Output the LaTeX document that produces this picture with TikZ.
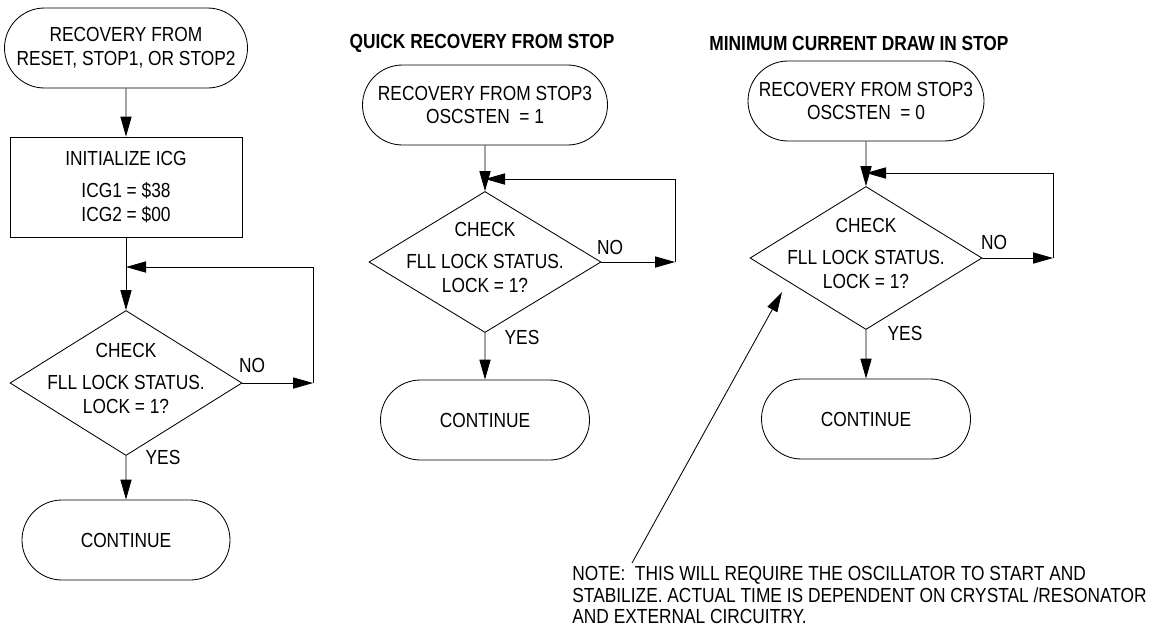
\documentclass[tikz,border=0pt]{standalone}
\usepackage{fontspec}
\setmainfont{Liberation Sans}[FakeStretch=0.85]
\usetikzlibrary{shapes.misc,shapes.geometric,arrows.meta,positioning}
\newcommand{\unitpx}{0.25mm}
\tikzset{
	terminal/.style={draw, rounded rectangle, inner sep=0pt,
		minimum height=80*\unitpx, align=center},
	process/.style={draw, rectangle, inner sep=0pt, minimum width=232*\unitpx,
		minimum height=100*\unitpx, align=center},
	decision/.style={draw, diamond, inner sep=0pt, minimum width=232*\unitpx},
	chktext/.style={align=center, inner sep=0pt, yshift=1.2mm},
	lbl/.style={inner sep=0pt},
	title/.style={inner sep=0pt, font=\fontsize{14.5}{17}\selectfont\bfseries},
	note/.style={anchor=north west, align=left, inner sep=0pt,
		font=\fontsize{14.5}{15.3}\selectfont},
	flow/.style={-{Triangle[length=5mm,width=2.8mm]}}
}

\begin{document}
\begin{tikzpicture}[x=\unitpx, y=-\unitpx, line width=0.6pt,
	font=\fontsize{14.5}{17}\selectfont]
	\useasboundingbox (0,0) rectangle (1152,631);

	% recovery from reset
	\node[terminal, minimum width=243*\unitpx] (start1) at (126,48) {RECOVERY FROM\\RESET, STOP1, OR STOP2};
	\node[process] (init) at (126,187) {INITIALIZE ICG\\[2mm]ICG1 = \$38\\ICG2 = \$00};
	\node[decision, minimum height=145*\unitpx] (chk1) at (126,383) {};
	\node[chktext] (chk1txt) at (chk1) {CHECK\\[2mm]FLL LOCK STATUS.\\LOCK = 1?};
	\node[terminal, minimum width=208*\unitpx] (cont1) at (126,540) {CONTINUE};
	\node[lbl] (no1) at (252,365) {NO};
	\node[lbl] (yes1) at (163,457) {YES};
	\coordinate (loop1) at (313,267);
	\draw[flow] (start1) -- (init);
	\draw[flow] (init) -- (chk1);
	\draw[flow] (chk1) -- (cont1);
	\draw[flow] (chk1.east) -- (chk1.east -| loop1);
	\draw[flow] (chk1.east -| loop1) -- (loop1) -- (loop1 -| chk1.north);

	% quick recovery
	\node[title] (ttl2) at (482,43) {QUICK RECOVERY FROM STOP};
	\node[terminal, minimum width=245*\unitpx] (start2) at (485,105) {RECOVERY FROM STOP3\\OSCSTEN\ \ = 1};
	\node[decision, minimum height=141*\unitpx] (chk2) at (485,262) {};
	\node[chktext] (chk2txt) at (chk2) {CHECK\\[2mm]FLL LOCK STATUS.\\LOCK = 1?};
	\node[terminal, minimum width=209*\unitpx] (cont2) at (485,420) {CONTINUE};
	\node[lbl] (no2) at (610,247) {NO};
	\node[lbl] (yes2) at (522,337) {YES};
	\coordinate (loop2) at (675,179);
	\draw[flow] (start2) -- (chk2);
	\draw[flow] (chk2) -- (cont2);
	\draw[flow] (chk2.east) -- (chk2.east -| loop2);
	\draw[flow] (chk2.east -| loop2) -- (loop2) -- (loop2 -| chk2.north);

	% minimum current
	\node[title] (ttl3) at (859,43) {MINIMUM CURRENT DRAW IN STOP};
	\node[terminal, minimum width=236*\unitpx] (start3) at (866,101) {RECOVERY FROM STOP3\\OSCSTEN\ \ = 0};
	\node[decision, minimum height=143*\unitpx] (chk3) at (866,258) {};
	\node[chktext] (chk3txt) at (chk3) {CHECK\\[2mm]FLL LOCK STATUS.\\LOCK = 1?};
	\node[terminal, minimum width=209*\unitpx] (cont3) at (866,419) {CONTINUE};
	\node[lbl] (no3) at (994,242) {NO};
	\node[lbl] (yes3) at (905,333) {YES};
	\coordinate (loop3) at (1053,173);
	\draw[flow] (start3) -- (chk3);
	\draw[flow] (chk3) -- (cont3);
	\draw[flow] (chk3.east) -- (chk3.east -| loop3);
	\draw[flow] (chk3.east -| loop3) -- (loop3) -- (loop3 -| chk3.north);

	% note
	\node[note] (note) at (572,566) {NOTE:\ \ THIS WILL REQUIRE THE OSCILLATOR TO START AND\\STABILIZE. ACTUAL TIME IS DEPENDENT ON CRYSTAL /RESONATOR\\AND EXTERNAL CIRCUITRY.};
	\coordinate (ptrtail) at (632,563);
	\coordinate (ptrtip) at (782,292);
	\draw[flow] (ptrtail) -- (ptrtip);
\end{tikzpicture}
\end{document}
